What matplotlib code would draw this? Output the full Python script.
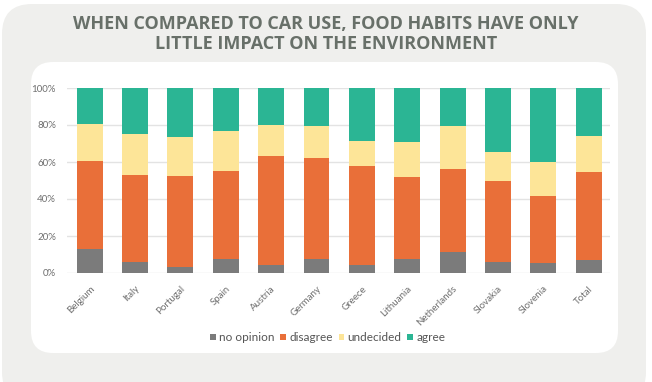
import matplotlib.pyplot as plt
import numpy as np
from matplotlib.patches import FancyBboxPatch

# data (percent)
countries = ["Belgium", "Italy", "Portugal", "Spain", "Austria", "Germany",
             "Greece", "Lithuania", "Netherlands", "Slovakia", "Slovenia", "Total"]
no_opinion = [13.0, 5.7, 3.5, 7.7, 4.1, 7.7, 4.1, 7.3, 11.3, 6.2, 5.4, 7.0]
disagree = [47.5, 47.5, 48.7, 47.5, 59.0, 54.3, 53.6, 44.5, 44.9, 43.4, 36.2, 47.8]
undecided = [20.3, 22.1, 21.2, 21.5, 17.0, 17.6, 13.8, 19.2, 23.4, 16.0, 18.6, 19.2]
agree = [19.2, 24.7, 26.6, 23.3, 19.9, 20.4, 28.5, 29.0, 20.4, 34.4, 39.8, 26.0]

series = [("no opinion", no_opinion, "#7b7b7b"),
          ("disagree", disagree, "#e96f39"),
          ("undecided", undecided, "#fde598"),
          ("agree", agree, "#2bb594")]

plt.rcParams["font.family"] = ["Lato", "DejaVu Sans"]

fig = plt.figure(figsize=(6.52, 3.82), dpi=100)
fig.patch.set_facecolor("white")

# background panels (pixel coordinates)
outer = FancyBboxPatch((2, -20), 644, 398, boxstyle="round,pad=0,rounding_size=30",
                       transform=None, facecolor="#efefed", edgecolor="none", zorder=0)
inner = FancyBboxPatch((31, 29), 587, 291, boxstyle="round,pad=0,rounding_size=22",
                       transform=None, facecolor="white", edgecolor="none", zorder=1)
fig.add_artist(outer)
fig.add_artist(inner)

ax = fig.add_axes([67 / 652, 1 - 273 / 382, (610 - 67) / 652, (273 - 88) / 382])
ax.set_facecolor("none")
ax.set_zorder(2)

x = np.arange(len(countries))
bottom = np.zeros(len(countries))
for name, vals, color in series:
    ax.bar(x, vals, width=0.57, bottom=bottom, color=color, label=name, zorder=3)
    bottom += np.array(vals)

ax.set_xlim(-0.5, 11.47)
ax.set_ylim(0, 100)
ax.set_yticks([0, 20, 40, 60, 80, 100])
ax.set_yticklabels(["0%", "20%", "40%", "60%", "80%", "100%"])
ax.yaxis.grid(True, color="#e3e3e3", linewidth=1, zorder=0)
ax.set_axisbelow(True)
for s in ax.spines.values():
    s.set_visible(False)
ax.tick_params(axis="both", length=0, colors="#6f6f6f", labelsize=7)
ax.tick_params(axis="y", pad=8)
ax.set_xticks(x)
ax.set_xticklabels(countries, rotation=45, ha="right", rotation_mode="anchor")
ax.tick_params(axis="x", pad=8)

leg = ax.legend(loc="center", bbox_to_anchor=(0.48, -0.35), ncol=4, frameon=False,
                fontsize=8.5, handlelength=0.5, handleheight=0.5, handletextpad=0.25,
                columnspacing=0.5, labelcolor="#555555")

fig.text(326 / 652, 1 - 34 / 382,
         "WHEN COMPARED TO CAR USE, FOOD HABITS HAVE ONLY\nLITTLE IMPACT ON THE ENVIRONMENT",
         ha="center", va="center", fontsize=13, fontweight="bold", color="#687069",
         linespacing=1.15, family=["Open Sans", "DejaVu Sans"])

plt.savefig("out.png", dpi=100)
